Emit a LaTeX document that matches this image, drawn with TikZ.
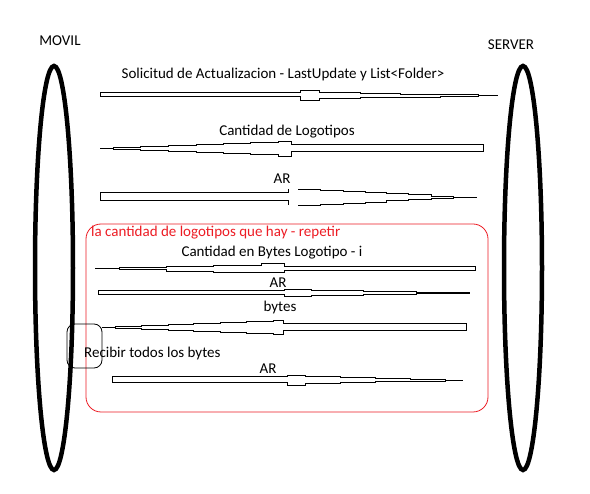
\documentclass[tikz,border=0pt]{standalone}
\usepackage{fontspec}
\setmainfont{Carlito}
\usetikzlibrary{shapes.geometric}
\definecolor{paintred}{RGB}{237,28,36}
\begin{document}
\begin{tikzpicture}[x=1pt,y=-1pt,
  lbl/.style={inner sep=0pt,font=\fontsize{15}{17}\selectfont},
  actor/.style={ellipse,draw,line width=4.5pt,minimum width=38pt,minimum height=404pt,inner sep=0pt},
  band/.style={draw,line width=0.8pt,line join=miter},
  loopbox/.style={draw=paintred,line width=0.8pt,rounded corners=15pt},
  notebox/.style={draw,line width=0.8pt,rounded corners=8pt}]
\useasboundingbox (0,0) rectangle (590,494);
\fill[white] (0,0) rectangle (590,494);

% actors
\node[actor] (movil) at (54,268) {};
\node[actor] (server) at (523,268) {};
\node[lbl] (movilL) at (60,41) {MOVIL};
\node[lbl] (serverL) at (511,45) {SERVER};

% loop box
\draw[loopbox] (86,224) rectangle (488,412);
\node[lbl,text=paintred,anchor=west] (loopL) at (91,233) {la cantidad de logotipos que hay - repetir};

% note box
\draw[notebox] (67,324) rectangle (102,368);
\node[lbl,anchor=west] (noteL) at (84,354) {Recibir todos los bytes};

% labels
\node[lbl] (m1) at (283,75) {Solicitud de Actualizacion - LastUpdate y List<Folder>};
\node[lbl] (m2) at (287,132) {Cantidad de Logotipos};
\node[lbl] (m3) at (282,179) {AR};
\node[lbl] (m4) at (272,253) {Cantidad en Bytes Logotipo - i};
\node[lbl] (m5) at (278,283) {AR};
\node[lbl] (m6) at (280,308) {bytes};
\node[lbl] (m7) at (268,369) {AR};

% arrow 1
\draw[band] (100,92.3) -- (300,92.3) -- (300,90.7) -- (319,90.7) -- (319,92.3) -- (360,92.3) -- (360,93.3) -- (400,93.3) -- (400,94) -- (440,94) -- (440,94.7) -- (478,94.7) -- (478,96.7) -- (440,96.7) -- (440,97.3) -- (400,97.3) -- (400,97.7) -- (360,97.7) -- (360,98.3) -- (319,98.3) -- (319,100.7) -- (300,100.7) -- (300,96.7) -- (100,96.7) -- cycle;
\draw[band] (478,95.7) -- (498,95.7);

% arrow 2
\draw[band] (100,148.7) -- (113.3,148.7);
\draw[band] (113.3,147.7) -- (140,147.7) -- (140,146.7) -- (168.3,146.7) -- (168.3,145.7) -- (196.7,145.7) -- (196.7,144.7) -- (223.3,144.7) -- (223.3,143.3) -- (250,143.3) -- (250,142.3) -- (278.3,142.3) -- (278.3,141) -- (291.7,141) -- (291.7,144.3) -- (483.3,144.3) -- (483.3,151.7) -- (291.7,151.7) -- (291.7,156) -- (278.3,156) -- (278.3,154.7) -- (250,154.7) -- (250,153.7) -- (223.3,153.7) -- (223.3,152.7) -- (196.7,152.7) -- (196.7,151.7) -- (168.3,151.7) -- (168.3,150.7) -- (140,150.7) -- (140,149.7) -- (113.3,149.7) -- cycle;

% arrow 3
\draw[band] (288.3,189) -- (288.3,192.7) -- (100,192.7) -- (100,200.7) -- (288.3,200.7) -- (288.3,205);
\draw[band] (298.3,189) -- (320,189) -- (320,190) -- (343.3,190) -- (343.3,191) -- (365,191) -- (365,192) -- (386.7,192) -- (386.7,193.3) -- (408.3,193.3) -- (408.3,194.7) -- (431.7,194.7) -- (431.7,196) -- (453.3,196) -- (453.3,198.3) -- (431.7,198.3) -- (431.7,199.3) -- (408.3,199.3) -- (408.3,200.7) -- (386.7,200.7) -- (386.7,202) -- (365,202) -- (365,203) -- (343.3,203) -- (343.3,204) -- (320,204) -- (320,205) -- (298.3,205);
\draw[band] (453.3,197.2) -- (476.7,197.2);

% arrow 4
\draw[band] (95,268.3) -- (119.3,268.3);
\draw[band] (119.3,267.3) -- (166.7,267.3) -- (166.7,266.3) -- (213.3,266.3) -- (213.3,265) -- (261.7,265) -- (261.7,263.3) -- (284,263.3) -- (284,266) -- (475,266) -- (475,270.7) -- (284,270.7) -- (284,272.7) -- (261.7,272.7) -- (261.7,272) -- (213.3,272) -- (213.3,271) -- (166.7,271) -- (166.7,269.7) -- (119.3,269.7) -- cycle;

% arrow 5
\draw[band] (98.3,290.7) -- (284,290.7) -- (284,289.3) -- (311,289.3) -- (311,290.7) -- (363.3,290.7) -- (363.3,291.7) -- (416.7,291.7) -- (416.7,294.5) -- (363.3,294.5) -- (363.3,295.7) -- (311,295.7) -- (311,296.3) -- (284,296.3) -- (284,294) -- (98.3,294) -- cycle;
\draw[line width=1.8pt] (416.7,293) -- (470,293);

% arrow 6
\draw[band] (101.7,327.3) -- (115,327.3);
\draw[band] (115,326.7) -- (141.7,326.7) -- (141.7,325.7) -- (168.3,325.7) -- (168.3,324.7) -- (193.3,324.7) -- (193.3,323.7) -- (220,323.7) -- (220,322.7) -- (246.7,322.7) -- (246.7,321.7) -- (273.3,321.7) -- (273.3,320) -- (283.3,320) -- (283.3,323.3) -- (466.7,323.3) -- (466.7,330) -- (283.3,330) -- (283.3,334.3) -- (273.3,334.3) -- (273.3,333.3) -- (246.7,333.3) -- (246.7,332.3) -- (220,332.3) -- (220,331.3) -- (193.3,331.3) -- (193.3,330.3) -- (168.3,330.3) -- (168.3,329.3) -- (141.7,329.3) -- (141.7,328.3) -- (115,328.3) -- cycle;

% arrow 7
\draw[band] (112.3,376.7) -- (287.3,376.7) -- (287.3,375) -- (305,375) -- (305,376) -- (340,376) -- (340,377.3) -- (375,377.3) -- (375,378.3) -- (410,378.3) -- (410,379) -- (445,379) -- (445,381) -- (410,381) -- (410,381.7) -- (375,381.7) -- (375,382.3) -- (340,382.3) -- (340,383.3) -- (305,383.3) -- (305,385) -- (287.3,385) -- (287.3,382.3) -- (112.3,382.3) -- cycle;
\draw[band] (445,380) -- (463.3,380);
\end{tikzpicture}
\end{document}
